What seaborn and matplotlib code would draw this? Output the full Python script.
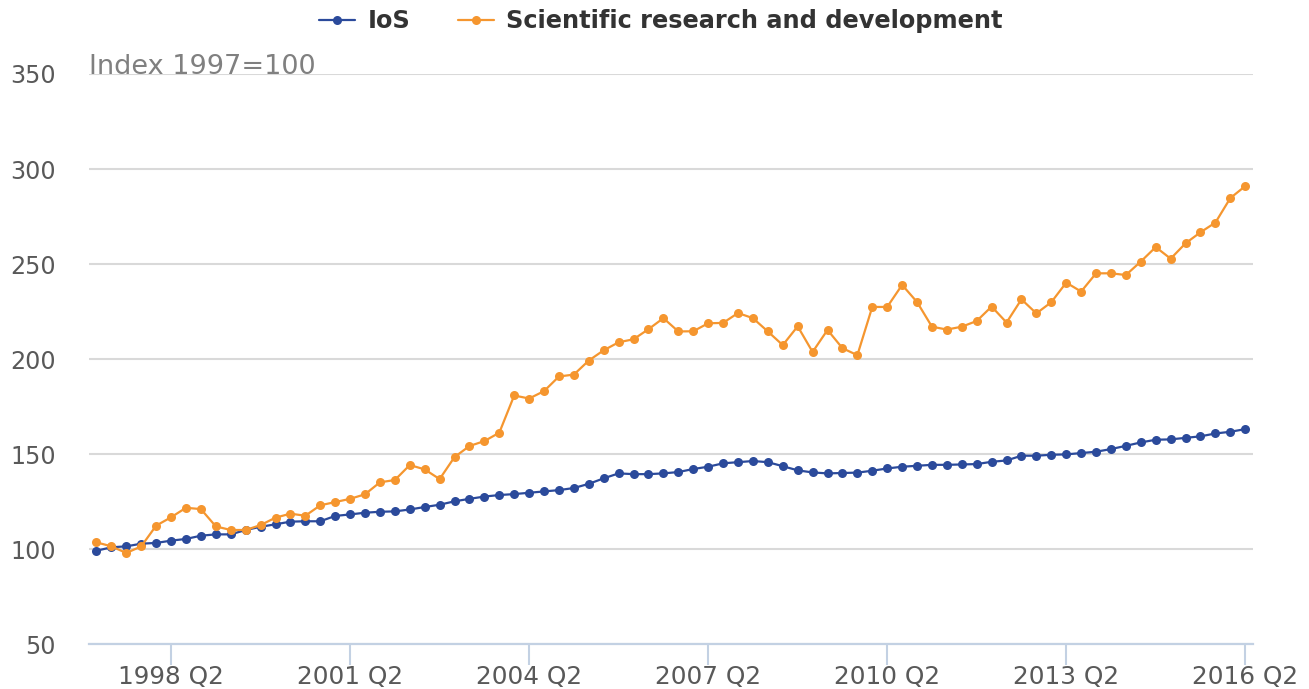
import numpy as np
import pandas as pd
import matplotlib
matplotlib.use("Agg")
import matplotlib.pyplot as plt
import seaborn as sns

# Quarterly index values, 1997 Q1 .. 2016 Q2 (1997=100)
years = list(range(1997, 2017))
quarters = [f"{y} Q{q}" for y in years for q in range(1, 5)][:78]

ios = [99.1, 100.9, 101.4, 102.8, 103.2, 104.4, 105.3, 107.0, 107.7, 107.7,
       110.0, 111.7, 113.0, 114.4, 114.6, 114.6, 117.4, 118.2, 119.1, 119.6,
       119.8, 120.8, 122.1, 123.3, 125.1, 126.4, 127.6, 128.4, 128.9, 129.6,
       130.3, 131.0, 132.1, 134.3, 137.2, 139.8, 139.4, 139.4, 139.8, 140.5,
       142.1, 143.3, 145.1, 145.7, 146.3, 145.7, 143.6, 141.4, 140.3, 139.8,
       140.0, 140.2, 141.2, 142.4, 143.3, 143.8, 144.3, 144.3, 144.5, 144.7,
       145.9, 146.6, 149.1, 149.1, 149.6, 149.8, 150.5, 151.2, 152.6, 154.3,
       156.1, 157.5, 157.7, 158.5, 159.3, 160.8, 161.7, 163.1]

research = [103.5, 101.4, 97.9, 101.4, 112.3, 116.7, 121.7, 121.0, 111.9, 110.0,
            110.0, 112.6, 116.5, 118.6, 117.5, 123.0, 124.7, 126.4, 128.8, 135.1,
            136.3, 144.2, 141.9, 136.8, 148.4, 154.2, 156.8, 161.2, 180.8, 179.2,
            183.1, 190.8, 191.8, 199.2, 204.6, 208.8, 210.4, 215.7, 221.5, 214.5,
            214.6, 218.8, 219.0, 224.2, 221.5, 214.5, 207.3, 217.2, 203.7, 215.3,
            205.7, 202.0, 227.4, 227.4, 239.0, 230.0, 217.0, 215.5, 217.0, 220.0,
            227.6, 219.2, 231.4, 224.0, 229.9, 240.2, 235.5, 245.1, 245.1, 244.2,
            251.3, 258.9, 252.8, 260.9, 266.7, 271.8, 284.7, 291.0]

tick_labels = ["1998 Q2", "2001 Q2", "2004 Q2", "2007 Q2", "2010 Q2", "2013 Q2", "2016 Q2"]
series_names = ["IoS", "Scientific research and development"]
colors = ["#2B4A9B", "#F5962F"]

# long-form table for seaborn
df = pd.DataFrame({
    "idx": list(range(len(quarters))) * 2,
    "quarter": quarters * 2,
    "value": ios + research,
    "series": [series_names[0]] * len(ios) + [series_names[1]] * len(research),
})

sns.set_style("white")
plt.rcParams["font.family"] = ["DejaVu Sans"]

fig = plt.figure(figsize=(13.09, 6.89), dpi=100)
ax = fig.add_axes([0.068, 0.0653, 0.889, 0.8273])

sns.lineplot(data=df, x="idx", y="value", hue="series", palette=colors,
             marker="o", markersize=6.5, markeredgewidth=0, linewidth=1.6,
             ax=ax, legend=True)

ax.set_xlim(-0.5, 77.5)
ax.set_ylim(50, 350)
ax.set_yticks([50, 100, 150, 200, 250, 300, 350])
ax.yaxis.grid(True, color="#d9d9d9", linewidth=1.5)
ax.xaxis.grid(False)
ax.set_axisbelow(True)

tick_pos = [quarters.index(t) for t in tick_labels]
ax.set_xticks(tick_pos)
ax.set_xticklabels(tick_labels)
ax.set_xlabel("")
ax.set_ylabel("")

for side in ["top", "right", "left"]:
    ax.spines[side].set_visible(False)
ax.spines["bottom"].set_color("#c3d1e3")
ax.spines["bottom"].set_linewidth(1.6)

ax.tick_params(axis="x", length=15, width=1.5, color="#c3d1e3", pad=0,
               labelsize=17.8, labelcolor="#595959", bottom=True)
ax.tick_params(axis="y", length=0, pad=24, labelsize=17.2, labelcolor="#595959")

ax.text(0.0, 0.99, "Index 1997=100", transform=ax.transAxes, fontsize=19.5,
        color="#808080", ha="left", va="bottom")

handles, labels = ax.get_legend_handles_labels()
ax.legend_.remove()
fig.legend(handles, labels, loc="upper center", bbox_to_anchor=(0.505, 1.018),
           ncol=2, frameon=False, handlelength=1.5, columnspacing=2.0,
           handletextpad=0.5, prop={"weight": "bold", "size": 17.3},
           labelcolor="#333333")

fig.savefig("out.png", dpi=100)
